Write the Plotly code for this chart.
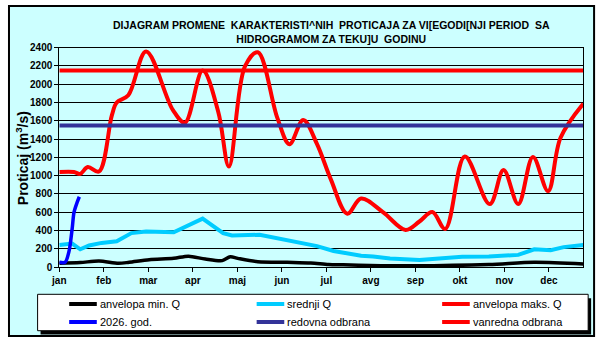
import plotly.graph_objects as go

# x positions in months from 1 January (0 = start of jan)
months = ["jan", "feb", "mar", "apr", "maj", "jun", "jul", "avg", "sep", "okt", "nov", "dec"]

max_x = [0, 0.33, 0.47, 0.64, 0.89, 1.18, 1.29, 1.55, 1.95, 2.55, 2.82, 3.22, 3.57, 3.81,
         4.17, 4.46, 4.90, 5.17, 5.48, 5.79, 6.10, 6.47, 6.78, 7.27, 7.78, 8.09, 8.38, 8.67,
         9.11, 9.67, 9.98, 10.31, 10.64, 10.98, 11.26, 11.77]
max_q = [1040, 1040, 1020, 1095, 1045, 1660, 1800, 1880, 2360, 1720, 1580, 2150, 1700, 1100,
         2195, 2350, 1630, 1345, 1610, 1345, 960, 584, 750, 602, 407, 499, 602, 418,
         1210, 690, 1062, 690, 1204, 832, 1416, 1788]

mean_x = [0, 0.29, 0.47, 0.67, 0.95, 1.29, 1.62, 1.95, 2.57, 3.22, 3.68, 3.88, 4.50, 5.21,
          5.57, 5.79, 6.16, 6.78, 7.05, 7.43, 8.09, 8.45, 9.05, 9.65, 10.31, 10.67, 11.04,
          11.33, 11.77]
mean_q = [241, 258, 195, 237, 265, 283, 372, 389, 382, 531, 372, 347, 354, 283,
          241, 230, 177, 124, 117, 95, 78, 88, 113, 117, 134, 195, 184,
          219, 241]

min_x = [0, 0.47, 0.89, 1.33, 1.57, 2.02, 2.57, 2.90, 3.28, 3.66, 3.84, 4.01, 4.46, 5.12,
         5.65, 6.05, 6.38, 6.98, 7.94, 9.65, 10.67, 11.77]
min_q = [42, 50, 67, 42, 53, 81, 96, 120, 88, 71, 113, 96, 60, 53,
         46, 28, 25, 18, 14, 28, 53, 35]

cur_x = [0, 0.13, 0.22, 0.29, 0.33, 0.40, 0.45]
cur_q = [53, 53, 177, 425, 600, 708, 770]

x_end = 11.77
redovna = 1550
vanredna = 2150

series_names = ["anvelopa min. Q", "srednji Q", "anvelopa maks. Q",
                "2026. god.", "redovna odbrana", "vanredna odbrana"]
series_colors = ["#000000", "#00CCFF", "#FF0000", "#0000FF", "#333399", "#FF0000"]

title = ("DIJAGRAM PROMENE  KARAKTERISTI^NIH  PROTICAJA ZA VI[EGODI[NJI PERIOD  SA<br>"
         "HIDROGRAMOM ZA TEKU]U  GODINU")

W, H = 600, 343
def px(x):
    return x / W
def py(y):
    return (H - y) / H

fig = go.Figure()
fig.add_trace(go.Scatter(x=min_x, y=min_q, name=series_names[0], mode="lines",
                         line=dict(color=series_colors[0], width=3.5, shape="spline", smoothing=0.8)))
fig.add_trace(go.Scatter(x=mean_x, y=mean_q, name=series_names[1], mode="lines",
                         line=dict(color=series_colors[1], width=4)))
fig.add_trace(go.Scatter(x=max_x, y=max_q, name=series_names[2], mode="lines",
                         line=dict(color=series_colors[2], width=4, shape="spline", smoothing=1.0)))
fig.add_trace(go.Scatter(x=cur_x, y=cur_q, name=series_names[3], mode="lines",
                         line=dict(color=series_colors[3], width=3.5, shape="spline", smoothing=0.8)))
fig.add_trace(go.Scatter(x=[0, x_end], y=[redovna, redovna], name=series_names[4], mode="lines",
                         line=dict(color=series_colors[4], width=4)))
fig.add_trace(go.Scatter(x=[0, x_end], y=[vanredna, vanredna], name=series_names[5], mode="lines",
                         line=dict(color=series_colors[5], width=4)))

# frame + legend box (drawn manually to reproduce the 3-column boxed legend)
shapes = [
    dict(type="rect", xref="paper", yref="paper", x0=px(1), x1=px(594), y0=py(341), y1=py(1),
         fillcolor="#CCFFFF", line=dict(color="black", width=2), layer="below"),
    dict(type="rect", xref="paper", yref="paper", x0=px(33), x1=px(591), y0=py(339.5), y1=py(302),
         fillcolor="black", line=dict(width=0), layer="above"),
    dict(type="rect", xref="paper", yref="paper", x0=px(30), x1=px(588), y0=py(335.5), y1=py(298),
         fillcolor="white", line=dict(color="black", width=1), layer="above"),
]
annotations = [
    dict(text="<b>" + title + "</b>", xref="paper", yref="paper", x=px(328), y=py(27.5),
         xanchor="center", yanchor="middle", showarrow=False,
         font=dict(size=10.5), align="center"),
    dict(text="<b>Proticaj (m<sup>3</sup>/s)</b>", xref="paper", yref="paper",
         x=px(15), y=py(158), xanchor="center", yanchor="middle", showarrow=False,
         textangle=-90, font=dict(size=14)),
]
col_x = [62, 252, 440]
row_y = [308, 326.5]
for i, (name, color) in enumerate(zip(series_names, series_colors)):
    cx = col_x[i % 3]
    ry = row_y[i // 3]
    shapes.append(dict(type="line", xref="paper", yref="paper",
                       x0=px(cx), x1=px(cx + 28), y0=py(ry), y1=py(ry),
                       line=dict(color=color, width=4), layer="above"))
    annotations.append(dict(text=name, xref="paper", yref="paper",
                            x=px(cx + 29), y=py(ry), xanchor="left", yanchor="middle",
                            showarrow=False, font=dict(size=11)))

fig.update_layout(
    width=W, height=H,
    margin=dict(l=0, r=0, t=0, b=0),
    paper_bgcolor="white",
    plot_bgcolor="white",
    font=dict(family="Liberation Sans, Arial, sans-serif", color="black"),
    showlegend=False,
    shapes=shapes,
    annotations=annotations,
)
fig.update_xaxes(
    domain=[px(52), px(583)], range=[0, x_end],
    tickmode="array", tickvals=list(range(12)), ticktext=months,
    ticks="outside", ticklen=4, tickcolor="black",
    showline=True, linecolor="black", linewidth=1, mirror=True,
    showgrid=False, zeroline=False,
    tickfont=dict(size=10, weight="bold"),
)
fig.update_yaxes(
    domain=[py(270), py(44)], range=[0, 2400], dtick=200,
    ticks="outside", ticklen=4, tickcolor="black",
    showline=True, linecolor="black", linewidth=1, mirror=True,
    showgrid=True, gridcolor="black", gridwidth=1, zeroline=False,
    tickfont=dict(size=10, weight="bold"),
)

fig.write_html("out.html")
